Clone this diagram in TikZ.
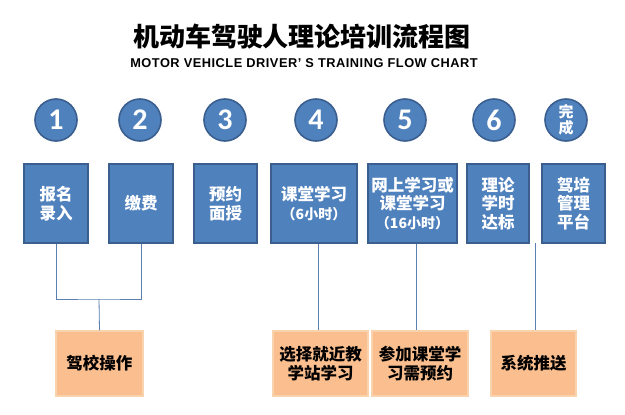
\documentclass[tikz,border=0pt]{standalone}
\usepackage{fontspec}
\usepackage{tikz}
\usetikzlibrary{positioning}
\newfontfamily\cjk{Noto Sans CJK SC}
\newfontfamily\numfont{Carlito}
\newfontfamily\latinfont{Liberation Sans}[LetterSpace=4]
\definecolor{stepblue}{HTML}{4F81BD}
\definecolor{stepedge}{HTML}{3A5F8E}
\definecolor{noteorange}{HTML}{FBBF8F}
\definecolor{noteedge}{HTML}{F9D3AE}
\definecolor{linkblue}{HTML}{5A7FB0}

\tikzset{
  num/.style={circle,fill=stepblue,draw=stepedge,line width=1.6pt,minimum size=42pt,inner sep=0pt,
    text=white,font=\numfont\bfseries\fontsize{30}{30}\selectfont},
  stepbox/.style={rectangle,fill=stepblue,draw=stepedge,line width=1.2pt,minimum height=79pt,inner sep=0pt,
    text=white,align=center,font=\cjk\bfseries\fontsize{16.5}{18.5}\selectfont},
  notebox/.style={rectangle,fill=noteorange,draw=noteedge,line width=1.2pt,minimum height=65pt,inner sep=0pt,
    text=black,align=center,font=\cjk\bfseries\fontsize{16.5}{19}\selectfont},
  link/.style={linkblue,line width=0.8pt}
}

\begin{document}
\begin{tikzpicture}[x=1pt,y=-1pt]
  \useasboundingbox[fill=white] (0,0) rectangle (625,415);
  % title
  \node[font=\cjk\bfseries\fontsize{26}{26}\selectfont] (title) at (302,37) {机动车驾驶人理论培训流程图};
  \node[font=\latinfont\bfseries\fontsize{12.8}{12.8}\selectfont] (subtitle) at (304,63) {MOTOR VEHICLE DRIVER’ S TRAINING FLOW CHART};

  % numbered circles
  \node[num] (n1) at (56,120) {1};
  \node[num] (n2) at (140,120) {2};
  \node[num] (n3) at (225,120) {3};
  \node[num] (n4) at (316,120) {4};
  \node[num] (n5) at (405,120) {5};
  \node[num] (n6) at (494,120) {6};
  \node[num,font=\cjk\bfseries\fontsize{15}{16}\selectfont,align=center] (n7) at (566,120) {完\\成};

  % steps
  \node[stepbox,minimum width=64pt] (s1) at (56,203.5) {报名\\录入};
  \node[stepbox,minimum width=64pt] (s2) at (141,203.5) {缴费};
  \node[stepbox,minimum width=63pt] (s3) at (225.5,203.5) {预约\\面授};
  \node[stepbox,minimum width=86pt] (s4) at (314,203.5) {课堂学习\\{\fontsize{14}{18.5}\selectfont （6小时）}};
  \node[stepbox,minimum width=89pt] (s5) at (412.5,203.5) {网上学习或\\课堂学习\\{\fontsize{14}{18.5}\selectfont （16小时）}};
  \node[stepbox,minimum width=62pt] (s6) at (498,203.5) {理论\\学时\\达标};
  \node[stepbox,minimum width=63pt] (s7) at (573.5,203.5) {驾培\\管理\\平台};

  % notes
  \node[notebox,minimum width=87pt] (o1) at (99.5,363.5) {驾校操作};
  \node[notebox,minimum width=95pt] (o2) at (320.5,363.5) {选择就近教\\学站学习};
  \node[notebox,minimum width=96pt] (o3) at (420,363.5) {参加课堂学\\习需预约};
  \node[notebox,minimum width=85pt] (o4) at (533.5,363.5) {系统推送};

  % connectors
  \coordinate (fork) at (99,299);
  \draw[link] (s1.south) |- (fork) -| (s2.south);
  \draw[link] (fork) -- (o1.north);
  \draw[link] ([xshift=4pt]s4.south) -- ([xshift=-2.5pt]o2.north);
  \draw[link] ([xshift=3.5pt]s5.south) -- ([xshift=-4pt]o3.north);
  \coordinate (gap) at (535,243);
  \draw[link] (gap) -- (gap |- o4.north);
\end{tikzpicture}
\end{document}
